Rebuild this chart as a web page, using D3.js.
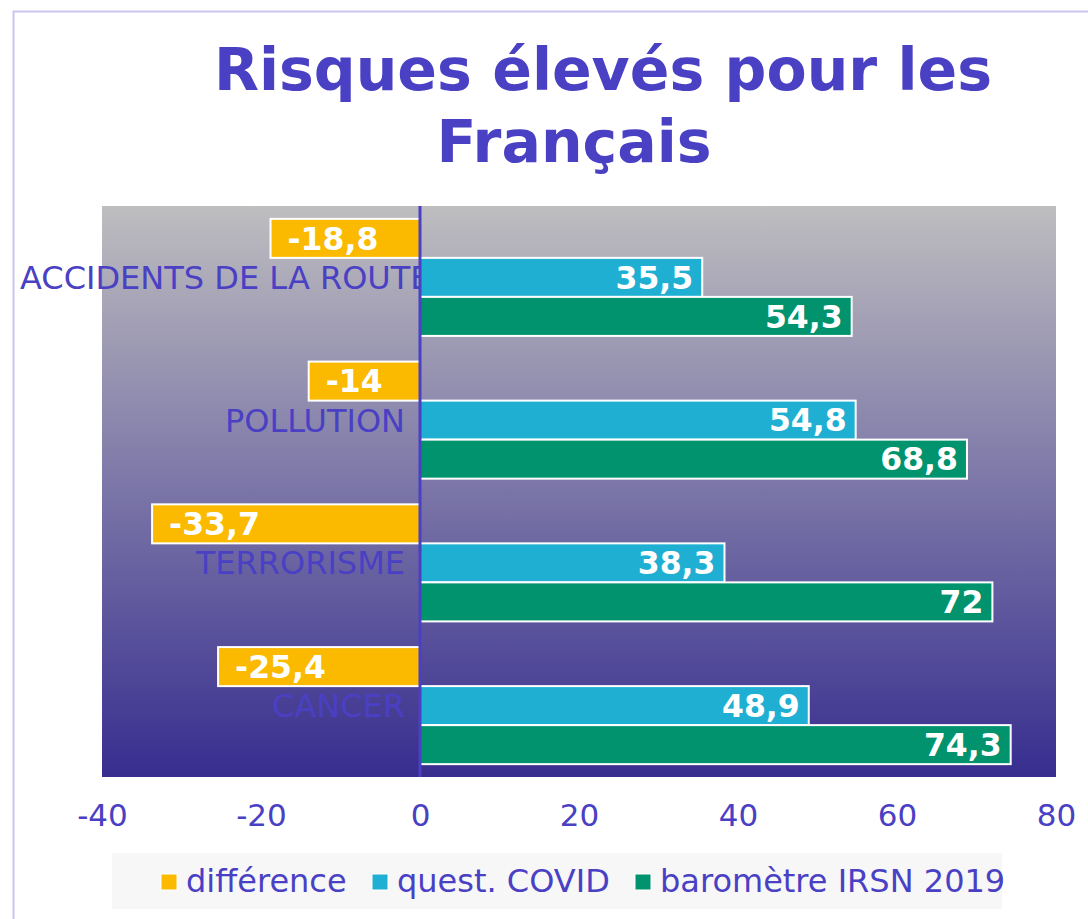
<!DOCTYPE html>
<html lang="fr">
<head>
  <meta charset="utf-8">
  <title>Risques élevés pour les Français</title>
  <style>
    body { margin: 0; background: #fff; }
    svg { display: block; font-family: "DejaVu Sans", sans-serif; }
  </style>
</head>
<body>
<svg id="chart" width="1088" height="919"></svg>
<script src="https://cdnjs.cloudflare.com/ajax/libs/d3/7.8.5/d3.min.js"></script>
<script>
  // données
  var categories = ["ACCIDENTS DE LA ROUTE", "POLLUTION", "TERRORISME", "CANCER"];
  var series = ["différence", "quest. COVID", "baromètre IRSN 2019"];
  var difference = [-18.8, -14, -33.7, -25.4];
  var questCovid = [35.5, 54.8, 38.3, 48.9];
  var barometre = [54.3, 68.8, 72, 74.3];
  var xTicks = [-40, -20, 0, 20, 40, 60, 80];
  var titleLines = ["Risques élevés pour les", "Français"];

  var colors = ["#fbb900", "#1fafd3", "#00936e"];
  var ink = "#4a40c4";
  var values = [difference, questCovid, barometre];

  var svg = d3.select("#chart");
  var plotL = 102, plotR = 1056, plotT = 206, plotB = 777;

  // cadre extérieur
  svg.append("rect")
    .attr("x", 13.5).attr("y", 11.5)
    .attr("width", 1100).attr("height", 1000)
    .attr("fill", "none").attr("stroke", "#c9c5f0").attr("stroke-width", 2);

  // titre
  svg.append("text")
    .attr("x", 603).attr("y", 90)
    .attr("text-anchor", "middle")
    .attr("font-size", 58.5).attr("font-weight", "bold").attr("fill", ink)
    .text(titleLines[0]);
  svg.append("text")
    .attr("x", 574).attr("y", 162)
    .attr("text-anchor", "middle")
    .attr("font-size", 58.5).attr("font-weight", "bold").attr("fill", ink)
    .text(titleLines[1]);

  // fond dégradé
  var grad = svg.append("defs").append("linearGradient")
    .attr("id", "bg").attr("x1", 0).attr("y1", 0).attr("x2", 0).attr("y2", 1);
  grad.append("stop").attr("offset", "0%").attr("stop-color", "#bebdbf");
  grad.append("stop").attr("offset", "100%").attr("stop-color", "#372d8f");
  svg.append("rect")
    .attr("x", plotL).attr("y", plotT)
    .attr("width", plotR - plotL).attr("height", plotB - plotT)
    .attr("fill", "url(#bg)");

  // échelles
  var x = d3.scaleLinear().domain([-40, 80]).range([plotL, plotR]);
  var y = d3.scaleBand().domain(categories).range([plotT, plotB])
    .paddingInner(0.18).paddingOuter(0.09);
  var ySub = d3.scaleBand().domain(series).range([0, y.bandwidth()]);

  // étiquettes des catégories (sous les barres)
  var catLabels = svg.append("g").selectAll("text")
    .data(categories)
    .enter().append("text")
      .attr("x", 405)
      .attr("y", d => y(d) + y.bandwidth() / 2)
      .attr("dy", "0.36em")
      .attr("text-anchor", "end")
      .attr("font-size", 32).attr("fill", ink)
      .text(d => d);
  catLabels.each(function() {
    var w = this.getComputedTextLength();
    if (405 - w < 20) d3.select(this).attr("text-anchor", "start").attr("x", 20);
  });

  // barres
  var rows = [];
  series.forEach(function(s, si) {
    categories.forEach(function(c, ci) {
      rows.push({ serie: s, si: si, cat: c, v: values[si][ci] });
    });
  });

  var bars = svg.append("g");
  bars.selectAll("rect")
    .data(rows)
    .enter().append("rect")
      .attr("x", d => x(Math.min(0, d.v)))
      .attr("y", d => y(d.cat) + ySub(d.serie))
      .attr("width", d => Math.abs(x(d.v) - x(0)))
      .attr("height", ySub.bandwidth())
      .attr("fill", d => colors[d.si])
      .attr("stroke", "#fff").attr("stroke-width", 2);

  bars.selectAll("text")
    .data(rows)
    .enter().append("text")
      .attr("x", d => d.v < 0 ? x(d.v) + 17 : x(d.v) - 9)
      .attr("y", d => y(d.cat) + ySub(d.serie) + ySub.bandwidth() / 2)
      .attr("dy", "0.36em")
      .attr("text-anchor", d => d.v < 0 ? "start" : "end")
      .attr("font-size", 31.5).attr("font-weight", "bold").attr("fill", "#fff")
      .text(d => String(d.v).replace(".", ","));

  // axe zéro
  svg.append("line")
    .attr("x1", x(0)).attr("x2", x(0))
    .attr("y1", plotT).attr("y2", plotB)
    .attr("stroke", ink).attr("stroke-width", 3);

  // axe des x
  var xAxis = svg.append("g")
    .attr("transform", "translate(0," + plotB + ")")
    .call(d3.axisBottom(x).tickValues(xTicks).tickSize(0).tickPadding(27)
      .tickFormat(d => d < 0 ? "-" + Math.abs(d) : d));
  xAxis.select(".domain").remove();
  xAxis.selectAll("text")
    .attr("font-family", "DejaVu Sans, sans-serif")
    .attr("font-size", 31).attr("fill", ink);

  // légende
  svg.append("rect")
    .attr("x", 112).attr("y", 853).attr("width", 890).attr("height", 56)
    .attr("fill", "#f7f7f7");
  var legendX = [161, 372, 635];
  var leg = svg.append("g").selectAll("g")
    .data(series)
    .enter().append("g")
      .attr("transform", (d, i) => "translate(" + legendX[i] + ",874)");
  leg.append("rect")
    .attr("width", 16).attr("height", 16)
    .attr("fill", (d, i) => colors[i])
    .attr("stroke", "#fff").attr("stroke-width", 1);
  leg.append("text")
    .attr("x", 25).attr("y", 18)
    .attr("font-size", 32).attr("fill", ink)
    .text(d => d);
</script>
</body>
</html>
